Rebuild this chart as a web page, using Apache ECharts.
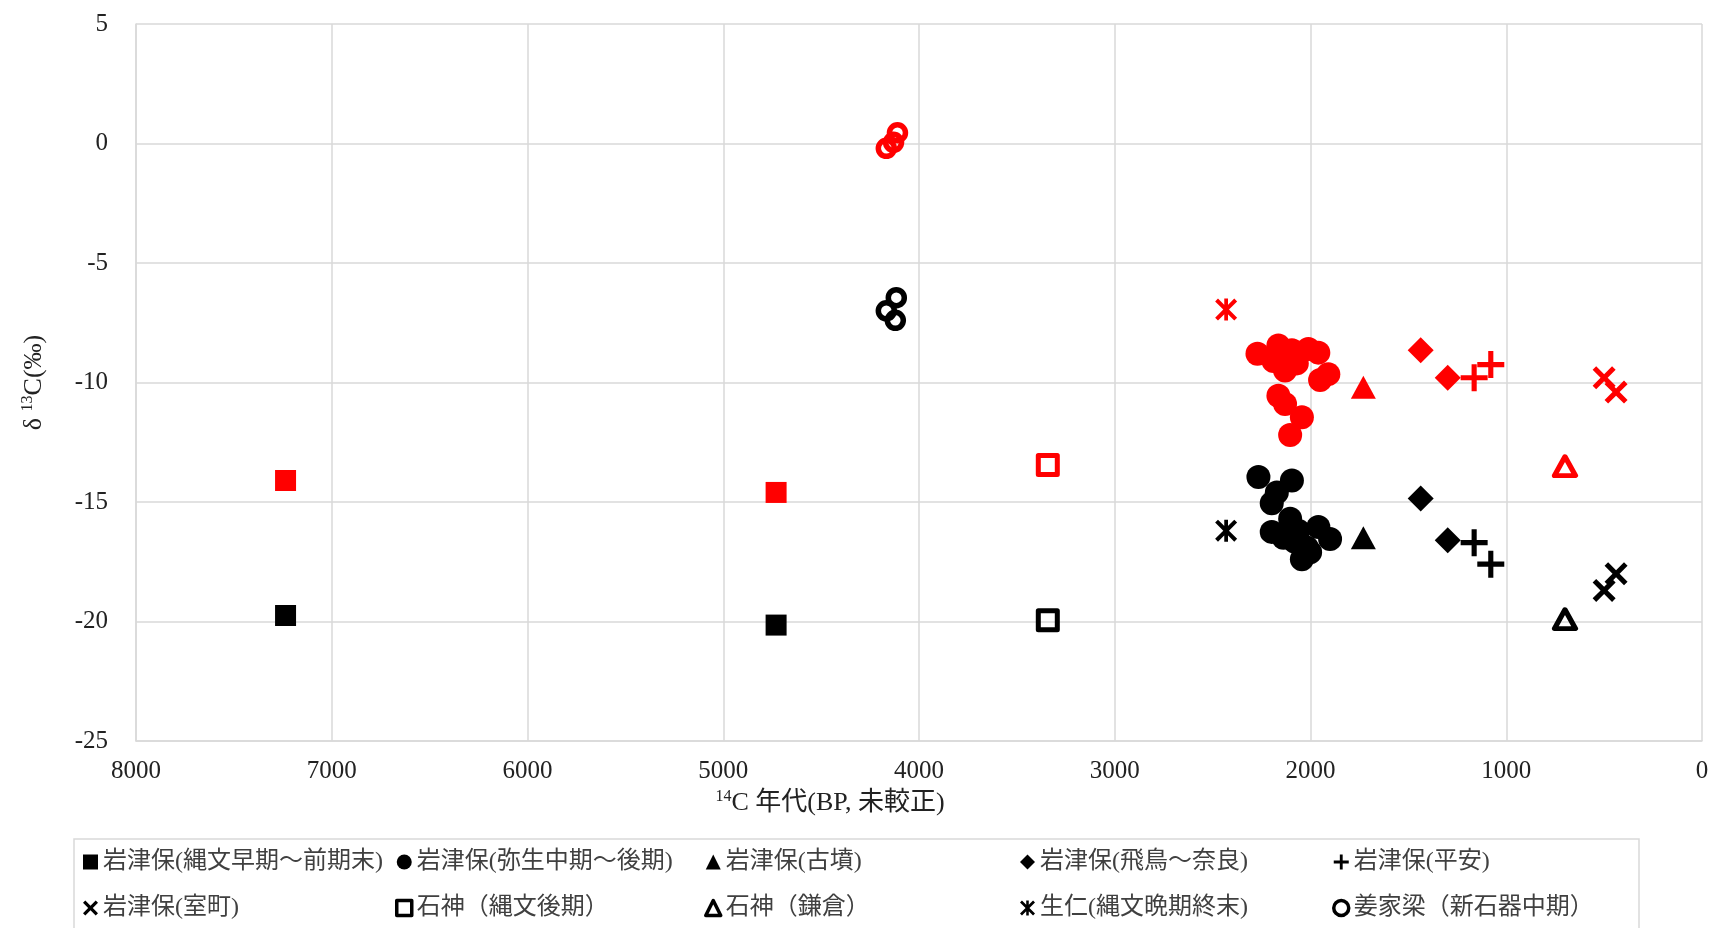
<!DOCTYPE html>
<html>
<head>
<meta charset="utf-8">
<script src="https://cdn.jsdelivr.net/npm/echarts@6/dist/echarts.min.js"></script>
<style>
html, body { margin: 0; padding: 0; background: #fff; }
#chart { width: 1713px; height: 928px; }
</style>
</head>
<body>
<div id="chart"></div>
<script>
// Axis ranges and tick steps
const xTicks = { min: 0, max: 8000, step: 1000 };
const yTicks = { min: -25, max: 5, step: 5 };

// Legend labels, in legend order
const groupNames = [
  '岩津保(縄文早期～前期末)',
  '岩津保(弥生中期～後期)',
  '岩津保(古墳)',
  '岩津保(飛鳥～奈良)',
  '岩津保(平安)',
  '岩津保(室町)',
  '石神（縄文後期）',
  '石神（鎌倉）',
  '生仁(縄文晩期終末)',
  '姜家梁（新石器中期）'
];

// [14C age BP, δ13C ‰] — black and red measurements per group
const jomonEarlyBlack = [[7236, -19.75], [4730, -20.15]];
const jomonEarlyRed   = [[7236, -14.1], [4730, -14.6]];

const yayoiBlack = [
  [2266, -13.95], [2095, -14.1], [2172, -14.6], [2198, -15.05], [2104, -15.7],
  [2198, -16.25], [2138, -16.5], [2062, -16.2], [1960, -16.05], [1900, -16.55],
  [2019, -16.9], [2044, -17.4], [2002, -17.1], [2081, -16.65]
];
const yayoiRed = [
  [2271, -8.8], [2164, -8.45], [2095, -8.65], [2011, -8.6], [1960, -8.75],
  [2189, -9.1], [2130, -9.5], [2070, -9.2], [1909, -9.65], [1951, -9.9],
  [2164, -10.55], [2130, -10.9], [2044, -11.45], [2104, -12.2]
];

const kofunBlack = [[1730, -16.5]];
const kofunRed   = [[1730, -10.2]];

const asukaNaraBlack = [[1437, -14.85], [1299, -16.6]];
const asukaNaraRed   = [[1437, -8.65], [1299, -9.8]];

const heianBlack = [[1164, -16.7], [1079, -17.6]];
const heianRed   = [[1164, -9.8], [1079, -9.25]];

const muromachiBlack = [[439, -18.0], [500, -18.7]];
const muromachiRed   = [[500, -9.8], [439, -10.4]];

const ishigamiJomonBlack = [[3342, -19.95]];
const ishigamiJomonRed   = [[3342, -13.45]];

const ishigamiKamakuraBlack = [[700, -19.9]];
const ishigamiKamakuraRed   = [[700, -13.5]];

const nyuJomonBlack = [[2431, -16.2]];
const nyuJomonRed   = [[2431, -6.95]];

const jiangjialiangBlack = [[4116, -6.45], [4167, -7.0], [4121, -7.4]];
const jiangjialiangRed   = [[4110, 0.45], [4130, 0.05], [4167, -0.2]];

// Marker shapes
const PLUS_PATH = 'path://M-0.19,-1L0.19,-1L0.19,-0.19L1,-0.19L1,0.19L0.19,0.19L0.19,1L-0.19,1L-0.19,0.19L-1,0.19L-1,-0.19L-0.19,-0.19Z';
const CROSS_PATH = 'path://M-0.69,-1L0,-0.31L0.69,-1L1,-0.69L0.31,0L1,0.69L0.69,1L0,0.31L-0.69,1L-1,0.69L-0.31,0L-1,-0.69Z';
const ASTERISK_PATH = 'path://M-0.74,-1L0,-0.26L0.74,-1L1,-0.74L0.26,0L1,0.74L0.74,1L0,0.26L-0.74,1L-1,0.74L-0.26,0L-1,-0.74Z' +
                      'M-0.17,-1L0.17,-1L0.17,1L-0.17,1Z';

const markers = [
  { symbol: 'rect', size: 21 },
  { symbol: 'circle', size: 24 },
  { symbol: 'triangle', size: [25, 23] },
  { symbol: 'diamond', size: 26 },
  { symbol: PLUS_PATH, size: 27 },
  { symbol: CROSS_PATH, size: 23 },
  { symbol: 'rect', size: 19, border: 5 },
  { symbol: 'triangle', size: [21, 19], border: 5 },
  { symbol: ASTERISK_PATH, size: 22 },
  { symbol: 'circle', size: 16, border: 5.5 }
];

const blackSets = [jomonEarlyBlack, yayoiBlack, kofunBlack, asukaNaraBlack, heianBlack,
                   muromachiBlack, ishigamiJomonBlack, ishigamiKamakuraBlack, nyuJomonBlack, jiangjialiangBlack];
const redSets = [jomonEarlyRed, yayoiRed, kofunRed, asukaNaraRed, heianRed,
                 muromachiRed, ishigamiJomonRed, ishigamiKamakuraRed, nyuJomonRed, jiangjialiangRed];

const SERIF = '"Liberation Serif", "Noto Sans CJK JP", serif';

function markerStyle(m, color) {
  if (m.border) {
    return { color: 'none', borderColor: color, borderWidth: m.border, borderJoin: 'round', opacity: 1 };
  }
  return { color: color, borderWidth: 0, opacity: 1 };
}

function buildSeries(sets, color) {
  return sets.map((data, i) => ({
    name: groupNames[i],
    type: 'scatter',
    data: data,
    symbol: markers[i].symbol,
    symbolSize: markers[i].size,
    itemStyle: markerStyle(markers[i], color),
    emphasis: { disabled: true }
  }));
}

const series = buildSeries(blackSets, '#000000').concat(buildSeries(redSets, '#ff0000'));

// Legend: five columns of two rows
const columnLeft = [83, 395, 704, 1020, 1332];
const legends = columnLeft.map((left, c) => ({
  orient: 'vertical',
  left: left,
  top: 849,
  padding: 0,
  itemGap: 20,
  itemWidth: 15,
  itemHeight: 15,
  selectedMode: false,
  textStyle: { fontSize: 24, lineHeight: 26, color: '#404040', fontFamily: SERIF },
  data: [c, c + 5].map(i => ({
    name: groupNames[i],
    icon: markers[i].symbol,
    itemStyle: markers[i].border
      ? { color: '#ffffff', borderColor: '#000000', borderWidth: 3.5, opacity: 1 }
      : { color: '#000000', borderWidth: 0, opacity: 1 }
  }))
}));

const nameRich = {
  sup: { fontSize: 16, fontFamily: SERIF, color: '#222', verticalAlign: 'top', lineHeight: 28 },
  t: { fontSize: 26, fontFamily: SERIF, color: '#222', lineHeight: 28 }
};

const chart = echarts.init(document.getElementById('chart'));
chart.setOption({
  animation: false,
  backgroundColor: '#ffffff',
  grid: { left: 136, right: 11, top: 24, bottom: 187, containLabel: false },
  graphic: [{
    type: 'rect',
    shape: { x: 74, y: 839, width: 1565, height: 120 },
    style: { fill: 'none', stroke: '#d9d9d9', lineWidth: 1.5 },
    silent: true
  }],
  legend: legends,
  xAxis: {
    type: 'value',
    inverse: true,
    min: xTicks.min,
    max: xTicks.max,
    interval: xTicks.step,
    axisLine: { show: true, onZero: false, lineStyle: { color: '#d9d9d9', width: 1.5 } },
    axisTick: { show: false },
    axisLabel: { margin: 18, fontSize: 25, color: '#222', fontFamily: SERIF, formatter: v => String(v) },
    splitLine: { show: true, lineStyle: { color: '#d9d9d9', width: 1.5 } },
    name: '{sup|14}{t|C 年代(BP, 未較正)}',
    nameLocation: 'middle',
    nameGap: 47,
    nameTextStyle: { padding: [0, 178, 0, 0], rich: nameRich }
  },
  yAxis: {
    type: 'value',
    min: yTicks.min,
    max: yTicks.max,
    interval: yTicks.step,
    axisLine: { show: true, onZero: false, lineStyle: { color: '#d9d9d9', width: 1.5 } },
    axisTick: { show: false },
    axisLabel: { margin: 28, fontSize: 25, color: '#222', fontFamily: SERIF, formatter: v => String(v) },
    splitLine: { show: true, lineStyle: { color: '#d9d9d9', width: 1.5 } },
    name: '{t|δ }{sup|13}{t|C(‰)}',
    nameLocation: 'middle',
    nameGap: 88,
    nameTextStyle: { rich: nameRich }
  },
  series: series
});
</script>
</body>
</html>
